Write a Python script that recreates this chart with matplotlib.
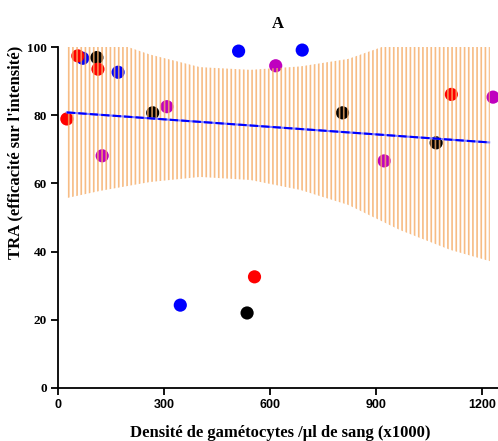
import numpy as np
import matplotlib.pyplot as plt

# ------ points par groupe (x = densité, y = TRA)
blue_x = [70, 170, 511, 691, 346]
blue_y = [96.7, 92.6, 98.8, 99.1, 24.3]
black_x = [110, 268, 805, 1070, 535]
black_y = [96.9, 80.7, 80.7, 71.9, 22.0]
purple_x = [125, 308, 616, 923, 1231]
purple_y = [68.1, 82.5, 94.5, 66.6, 85.3]
red_x = [25, 56, 113, 1113, 556]
red_y = [78.9, 97.4, 93.5, 86.1, 32.6]

# ------ droite de régression et bande de confiance
fit_x = [25, 1220]
fit_intercept = 81.0
fit_slope = -0.00736
band_x = [25, 119, 260, 402, 544, 685, 821, 968, 1110, 1222]
band_upper = [106.3, 102.8, 97.8, 94.1, 93.3, 94.3, 96.5, 101.9, 105.7, 107.2]
band_lower = [55.7, 57.8, 60.4, 61.9, 61.0, 58.1, 53.7, 46.3, 40.5, 37.2]

x_ticks = [0, 300, 600, 900, 1200]
y_ticks = [0, 20, 40, 60, 80, 100]

serif = 'Liberation Serif'
sans = 'Liberation Sans'
plt.rcParams['hatch.linewidth'] = 1.2

fig = plt.figure(figsize=(4.98, 4.41), dpi=100)
ax = fig.add_axes([0.1165, 0.1202, 0.8835, 0.7732])

for xs, ys, c in [(blue_x, blue_y, '#0000FF'), (black_x, black_y, '#000000'),
                  (purple_x, purple_y, '#BF00BF'), (red_x, red_y, '#FF0000')]:
    ax.scatter(xs, ys, s=90, color=c, edgecolors='none', zorder=2, clip_on=False)

ax.fill_between(band_x, band_lower, band_upper, facecolor='none',
                edgecolor=(0.96, 0.67, 0.40, 0.8), hatch='||||', linewidth=0, zorder=3)

fx = np.array(fit_x)
fy = fit_intercept + fit_slope * fx
ax.plot(fx, fy, color='#8080FF', lw=1.5, zorder=4)
ax.plot(fx, fy, color='#0000FF', lw=1.5, dashes=(4, 1.5), zorder=5)

ax.set_xlim(0, 1245)
ax.set_ylim(0, 100)
ax.set_xticks(x_ticks)
ax.set_yticks(y_ticks)
for lab in ax.get_xticklabels():
    lab.set_fontfamily(sans)
    lab.set_fontweight('bold')
    lab.set_fontsize(9)
for lab in ax.get_yticklabels():
    lab.set_fontfamily(serif)
    lab.set_fontweight('bold')
    lab.set_fontsize(9.5)
ax.tick_params(direction='out', length=5, width=1.3, pad=3)

for s in ['top', 'right']:
    ax.spines[s].set_visible(False)
for s in ['left', 'bottom']:
    ax.spines[s].set_linewidth(1.3)

ax.set_xlabel("Densité de gamétocytes /µl de sang (x1000)", fontfamily=serif,
              fontweight='bold', fontsize=12)
ax.xaxis.set_label_coords(0.505, -0.108)
ax.set_ylabel("TRA (efficacité sur l'intensité)", fontfamily=serif,
              fontweight='bold', fontsize=12)
ax.yaxis.set_label_coords(-0.078, 0.69)
ax.set_title("A", fontfamily=serif, fontweight='bold', fontsize=12, pad=14)

fig.savefig('out.png', dpi=100)
